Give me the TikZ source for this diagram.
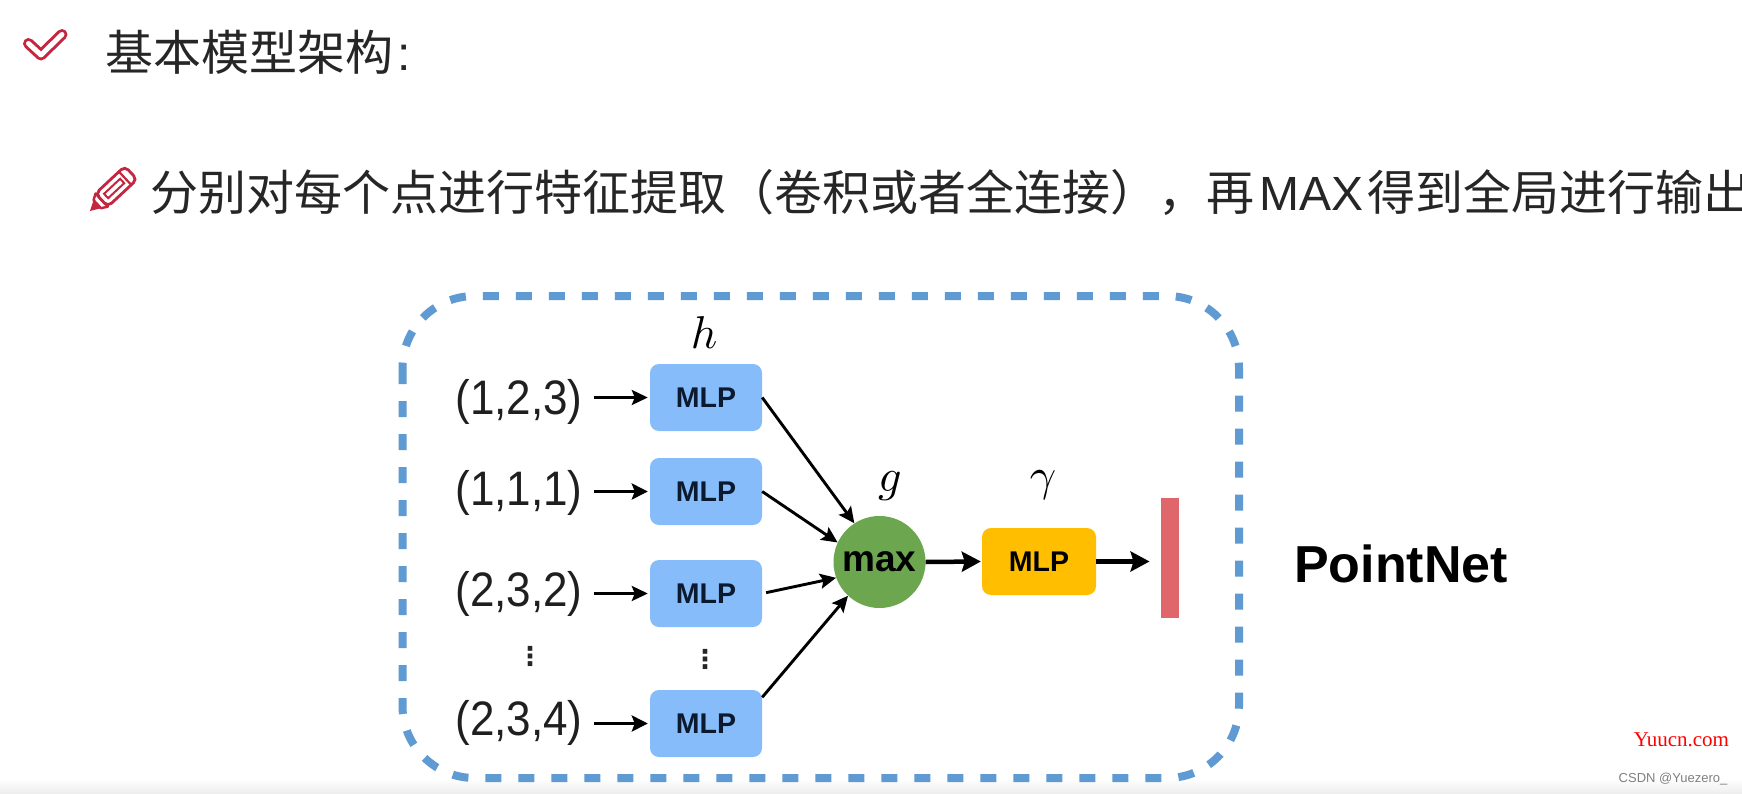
\documentclass[tikz,border=0pt]{standalone}
\usepackage{fontspec}
\setmainfont{Liberation Sans}
\newfontfamily\cjk{Noto Sans CJK SC}
\newfontfamily\serifw{Liberation Serif}
\newfontfamily\latinw{Liberation Sans}
\newfontfamily\dejavu{DejaVu Sans}
\usetikzlibrary{arrows.meta,calc}
\definecolor{mlpblue}{HTML}{86BCFA}
\definecolor{maxgreen}{HTML}{6CA74F}
\definecolor{mlpyellow}{HTML}{FFBE00}
\definecolor{barred}{HTML}{DF666B}
\definecolor{dashblue}{HTML}{5F9BD2}
\definecolor{iconred}{HTML}{C4263F}
\definecolor{inktext}{HTML}{262626}
\definecolor{navy}{HTML}{0B1A2E}
\newcommand\mlptext{\raisebox{-2.5pt}{MLP}}
\tikzset{
  mlpbox/.style={rectangle,rounded corners=9pt,fill=mlpblue,minimum width=112pt,minimum height=67pt,inner sep=0pt,
    text=navy,font=\fontsize{28.5}{30}\selectfont\bfseries},
  inlabel/.style={inner sep=0pt,text=black!88,yscale=1.1,font=\fontsize{44}{46}\selectfont},
  mathlabel/.style={inner sep=0pt,scale=4.6},
  dotslabel/.style={inner sep=0pt,text=black!85,font=\fontsize{26}{26}\selectfont\dejavu\bfseries},
  headline/.style={inner sep=0pt,anchor=base west,text=inktext,font=\fontsize{48}{50}\selectfont\cjk},
  arr/.style={-{Stealth[length=16pt,width=16pt,inset=3pt]},line width=3.8pt,black},
  arrthin/.style={-{Stealth[length=16pt,width=15pt,inset=3pt]},line width=2.9pt,black},
  arrbig/.style={-{Stealth[length=19pt,width=20pt,inset=3pt]},line width=4.5pt,black},
}
\begin{document}
\begin{tikzpicture}[x=1pt,y=-1pt]
\useasboundingbox (0,0) rectangle (1742,794);
\clip (0,0) rectangle (1742,794);
\fill[white] (0,0) rectangle (1742,794);
\shade[top color=white,bottom color=black!7] (0,778) rectangle (1742,794);

% check mark
\draw[iconred,line width=11pt,line cap=round,line join=round] (28.5,43.5) -- (41,55) -- (62,34.5);
\draw[white,line width=5pt,line cap=round,line join=round] (28.5,43.5) -- (41,55) -- (62,34.5);
% pencil
\begin{scope}[shift={(90,211)},rotate=43]
  \fill[iconred] (0,0) -- (10,-5.5) -- (10,5.5) -- cycle;
  \draw[iconred,line width=2.4pt,fill=white,line join=round] (10,-5.5) -- (16,-9) -- (16,9) -- (10,5.5) -- cycle;
  \draw[iconred,line width=2.8pt,fill=white,rounded corners=5pt] (16,-9) -- (56,-9) -- (56,9) -- (16,9) -- cycle;
  \draw[iconred,line width=2pt] (22,-3) rectangle (44,3);
  \draw[iconred,line width=2.2pt] (48,-9) -- (48,9);
\end{scope}

\node[headline] (title) at (105,71) {基本模型架构};
\node[headline,font=\fontsize{48}{50}\selectfont] (colon) at (397,71) {:};
\node[headline] (bullet) at (150,211) {分别对每个点进行特征提取（卷积或者全连接），再\hspace{5pt}{\latinw MAX}\hspace{4pt}得到全局进行输出};

% dashed frame
\draw[dashblue,line width=8pt,dash pattern=on 16pt off 17pt,rounded corners=72pt] (402.5,296) rectangle (1239,778);

% inputs
\node[inlabel] (i1) at (519,402) {(1,2,3)};
\node[inlabel] (i2) at (519,493) {(1,1,1)};
\node[inlabel] (i3) at (519,594) {(2,3,2)};
\node[inlabel] (i4) at (519,723) {(2,3,4)};
\node[dotslabel] (d1) at (530,656) {⋮};

% MLPs
\node[mlpbox] (m1) at (706,397.5) {\mlptext};
\node[mlpbox] (m2) at (706,491.5) {\mlptext};
\node[mlpbox] (m3) at (706,593.5) {\mlptext};
\node[mlpbox] (m4) at (706,723.5) {\mlptext};
\node[dotslabel] (d2) at (705,659) {⋮};
\node[mathlabel] (h) at (704,333) {$h$};

% max
\node[circle,fill=maxgreen,minimum size=92pt,inner sep=0pt,text=black,font=\fontsize{37}{39}\selectfont\bfseries] (mx) at (879.5,562) {\raisebox{-3.5pt}{max}};
\node[mathlabel] (g) at (890,486) {$g$};

% output MLP
\node[mlpbox,fill=mlpyellow,text=black,minimum width=114pt] (my) at (1039,561.5) {\mlptext};
\node[mathlabel] (gam) at (1043,485) {$\gamma$};
\node[rectangle,fill=barred,minimum width=18.5pt,minimum height=120pt,inner sep=0pt] (bar) at (1170,558) {};
\node[inner sep=0pt,font=\fontsize{52}{54}\selectfont\bfseries] (pn) at (1401,564) {PointNet};

% connectors
\draw[arrthin,shorten <=11pt,shorten >=2pt] (i1.east) ++(0,-4.5) -- (m1.west);
\draw[arr,shorten <=11pt,shorten >=2pt] (i2.east) ++(0,-1.5) -- (m2.west);
\draw[arrthin,shorten <=11pt,shorten >=2pt] (i3.east) ++(0,-0.5) -- (m3.west);
\draw[arr,shorten <=11pt,shorten >=2pt] (i4.east) ++(0,0.5) -- (m4.west);

\draw[arrthin] (m1.east) -- (mx.123);
\draw[arrthin] (m2.east) -- (mx.155);
\draw[arrthin,shorten <=4pt] (m3.east) -- (mx.200);
\draw[arrthin] (m4.25) -- (mx.227);
\draw[arrbig,shorten >=1pt] (mx.east) -- (my.west);
\draw[arrbig,shorten >=11pt] (my.east) -- (bar.west |- my.east);

% watermarks
\node[inner sep=0pt,text=red,font=\fontsize{21}{23}\selectfont\serifw] (wm) at (1681.5,740) {Yuucn.com};
\node[inner sep=0pt,text=black!50,font=\fontsize{13}{15}\selectfont] (csdn) at (1673,779) {CSDN @Yuezero\_};
\end{tikzpicture}
\end{document}
